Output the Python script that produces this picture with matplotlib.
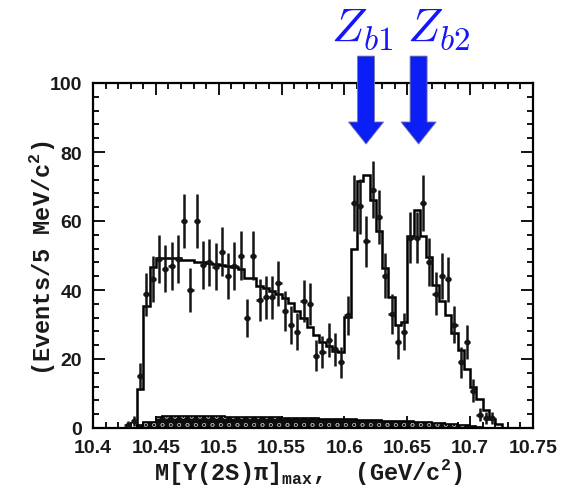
import numpy as np
import matplotlib
matplotlib.use("Agg")
import matplotlib.pyplot as plt
from matplotlib.patches import FancyArrow
from matplotlib.ticker import MultipleLocator

# ---------------- data ----------------
bin_edges = np.round(np.arange(10.400, 10.7501, 0.005), 4)   # 5 MeV bins

# fit (signal + background), one value per bin
fit_values = [0, 0, 0, 0, 0, 0, 0,
              11.4, 35.3, 46.6, 49.2, 49.3, 49.3, 49.2, 48.8, 48.7, 48.2,
              48.0, 47.8, 47.5, 47.3, 47.0, 46.6, 46.2, 43.5, 43.4, 41.2,
              40.5, 39.8, 38.8, 37.6, 36.3, 34.0, 31.8, 29.3, 27.1, 25.0,
              23.9, 22.4, 22.1, 32.3, 52.0, 71.5, 73.3, 66.0, 57.0, 46.5,
              38.0, 30.0, 30.8, 55.7, 63.3, 55.7, 49.7, 41.5, 36.9, 32.8,
              27.5, 22.7, 17.1, 11.8, 8.4, 5.3, 2.6, 1.2,
              0, 0, 0, 0, 0]

# background component, one value per bin
bkg_values = [0, 0, 0, 0, 0, 0, 0,
              0.8, 1.6, 1.6, 3.3, 3.4, 3.4, 3.4, 3.4, 3.4, 3.4, 3.4, 3.4,
              3.4, 3.4, 3.3, 3.3, 3.3, 3.3, 3.2, 3.2, 3.2, 3.1, 3.1, 3.0,
              3.0, 2.9, 2.9, 2.8, 2.8, 2.7, 2.7, 2.6, 2.6, 2.5, 2.5, 2.4,
              2.3, 2.3, 2.2, 2.1, 2.1, 2.0, 1.9, 1.9, 1.8, 1.7, 1.6, 1.5,
              1.4, 1.3, 1.2, 1.0, 0.8, 0.5, 0.2,
              0, 0, 0, 0, 0, 0, 0, 0]

# data points: bin centres (GeV), counts, errors
mass = [10.4275, 10.4325, 10.4375, 10.4425, 10.4475, 10.4525, 10.4575,
        10.4625, 10.4675, 10.4725, 10.4775, 10.4825, 10.4875, 10.4925,
        10.4975, 10.5025, 10.5075, 10.5125, 10.5175, 10.5225, 10.5275,
        10.5325, 10.5375, 10.5425, 10.5475, 10.5525, 10.5575, 10.5625,
        10.5675, 10.5725, 10.5775, 10.5825, 10.5875, 10.5925, 10.5975,
        10.6025, 10.6075, 10.6125, 10.6175, 10.6225, 10.6275, 10.6325,
        10.6375, 10.6425, 10.6475, 10.6525, 10.6575, 10.6625, 10.6675,
        10.6725, 10.6775, 10.6825, 10.6875, 10.6925, 10.6975, 10.7025,
        10.7075, 10.7125, 10.7175]
counts = [1.0, 2.0, 15.0, 38.8, 43.2, 49.0, 46.1, 47.0, 49.0, 60.1, 40.0,
          60.1, 47.2, 48.0, 46.8, 51.1, 44.1, 47.0, 50.0, 31.9, 50.0, 37.1,
          37.9, 37.9, 42.0, 34.0, 29.9, 27.9, 36.9, 35.9, 21.0, 22.0, 25.5,
          22.8, 19.0, 32.7, 65.2, 64.3, 54.1, 69.1, 61.1, 44.2, 33.0, 25.0,
          27.9, 55.2, 55.2, 65.2, 48.2, 38.9, 44.1, 43.1, 30.0, 19.0, 25.0,
          10.8, 3.8, 2.9, 2.9]
errors = [1.0, 1.4, 3.9, 6.2, 6.6, 7.0, 6.8, 6.9, 7.0, 7.8, 6.3,
          7.8, 6.9, 6.9, 6.8, 7.1, 6.6, 6.9, 7.1, 5.6, 7.1, 6.1,
          6.2, 6.2, 6.5, 5.8, 5.5, 5.3, 6.1, 6.0, 4.6, 4.7, 5.0,
          4.8, 4.4, 5.7, 8.1, 8.0, 7.4, 8.3, 7.8, 6.6, 5.7, 5.0,
          5.3, 7.4, 7.4, 8.1, 6.9, 6.2, 6.6, 6.6, 5.5, 4.4, 5.0,
          3.3, 1.9, 1.7, 1.7]
half_bin = 0.0025

# Zb peak markers
zb_names = [r"$Z_{b1}$", r"$Z_{b2}$"]
zb_arrow_x = [10.6172, 10.6590]
zb_label_x = [10.5895, 10.6500]

x_ticks = [10.4, 10.45, 10.5, 10.55, 10.6, 10.65, 10.7, 10.75]
x_ticklabels = ["10.4", "10.45", "10.5", "10.55", "10.6", "10.65", "10.7", "10.75"]
y_ticks = [0, 20, 40, 60, 80, 100]

# ---------------- style ----------------
plt.rcParams["hatch.linewidth"] = 0.45

fig = plt.figure(figsize=(5.71, 5.02), dpi=100)
ax = fig.add_axes([93 / 571, 1 - 429 / 502, 440 / 571, 345 / 502])

# background (dark, dotted fill)
ax.stairs(bkg_values, bin_edges, fill=True, facecolor="#0d0d0d",
          edgecolor="#9a9a9a", hatch="oo", linewidth=0, zorder=2)
ax.stairs(bkg_values, bin_edges, color="black", linewidth=1.2, zorder=2.5)

# fit histogram
ax.stairs(fit_values, bin_edges, color="black", linewidth=1.8, zorder=3)

# data points
ax.errorbar(mass, counts, yerr=errors, xerr=half_bin, fmt="o", ms=3.2,
            color="#151515", ecolor="#151515", elinewidth=1.8, capsize=0,
            zorder=4)

# axes
ax.set_xlim(10.4, 10.75)
ax.set_ylim(0, 100)
ax.set_xticks(x_ticks)
ax.set_xticklabels(x_ticklabels)
ax.set_yticks(y_ticks)
ax.xaxis.set_minor_locator(MultipleLocator(0.01))
ax.yaxis.set_minor_locator(MultipleLocator(4))
ax.tick_params(which="both", direction="in", top=True, right=True,
               width=1.3, color="black")
ax.tick_params(which="major", length=8.5)
ax.tick_params(which="minor", length=4.3)
ax.tick_params(axis="x", which="major", pad=8)
ax.tick_params(axis="y", which="major", pad=8)
for lab in ax.get_xticklabels() + ax.get_yticklabels():
    lab.set_fontfamily(["Liberation Sans", "DejaVu Sans"])
    lab.set_fontweight("bold")
    lab.set_fontsize(14)
    lab.set_color("#1a1a1a")
for sp in ax.spines.values():
    sp.set_linewidth(1.6)

mono = ["Liberation Mono", "DejaVu Sans Mono"]
fig.text(42 / 571, 1 - 258 / 502, r"(Events/5 MeV/c$^{\mathregular{2}}$)",
         rotation=90, ha="center", va="center", fontsize=17,
         fontweight="bold", family=mono, color="#1a1a1a")
fig.text(309 / 571, 1 - 480 / 502,
         r"M[Y(2S)π]$_{\mathregular{max}}$,  (GeV/c$^{\mathregular{2}}$)",
         ha="center", va="baseline", fontsize=17, fontweight="bold",
         family=mono, color="#1a1a1a")

# arrows and labels
for name, xa, xl in zip(zb_names, zb_arrow_x, zb_label_x):
    arr = FancyArrow(xa, 107.8, 0, -25.5, width=0.0135, head_width=0.028,
                     head_length=6.4, length_includes_head=True,
                     facecolor="#0a1ef5", edgecolor="#7a7a9a", linewidth=0.6,
                     clip_on=False, zorder=6)
    ax.add_patch(arr)
    ax.text(xl, 112.2, name, color="#1414ff", fontsize=34, ha="left",
            va="baseline", math_fontfamily="cm", clip_on=False)

fig.savefig("out.png", dpi=100)
